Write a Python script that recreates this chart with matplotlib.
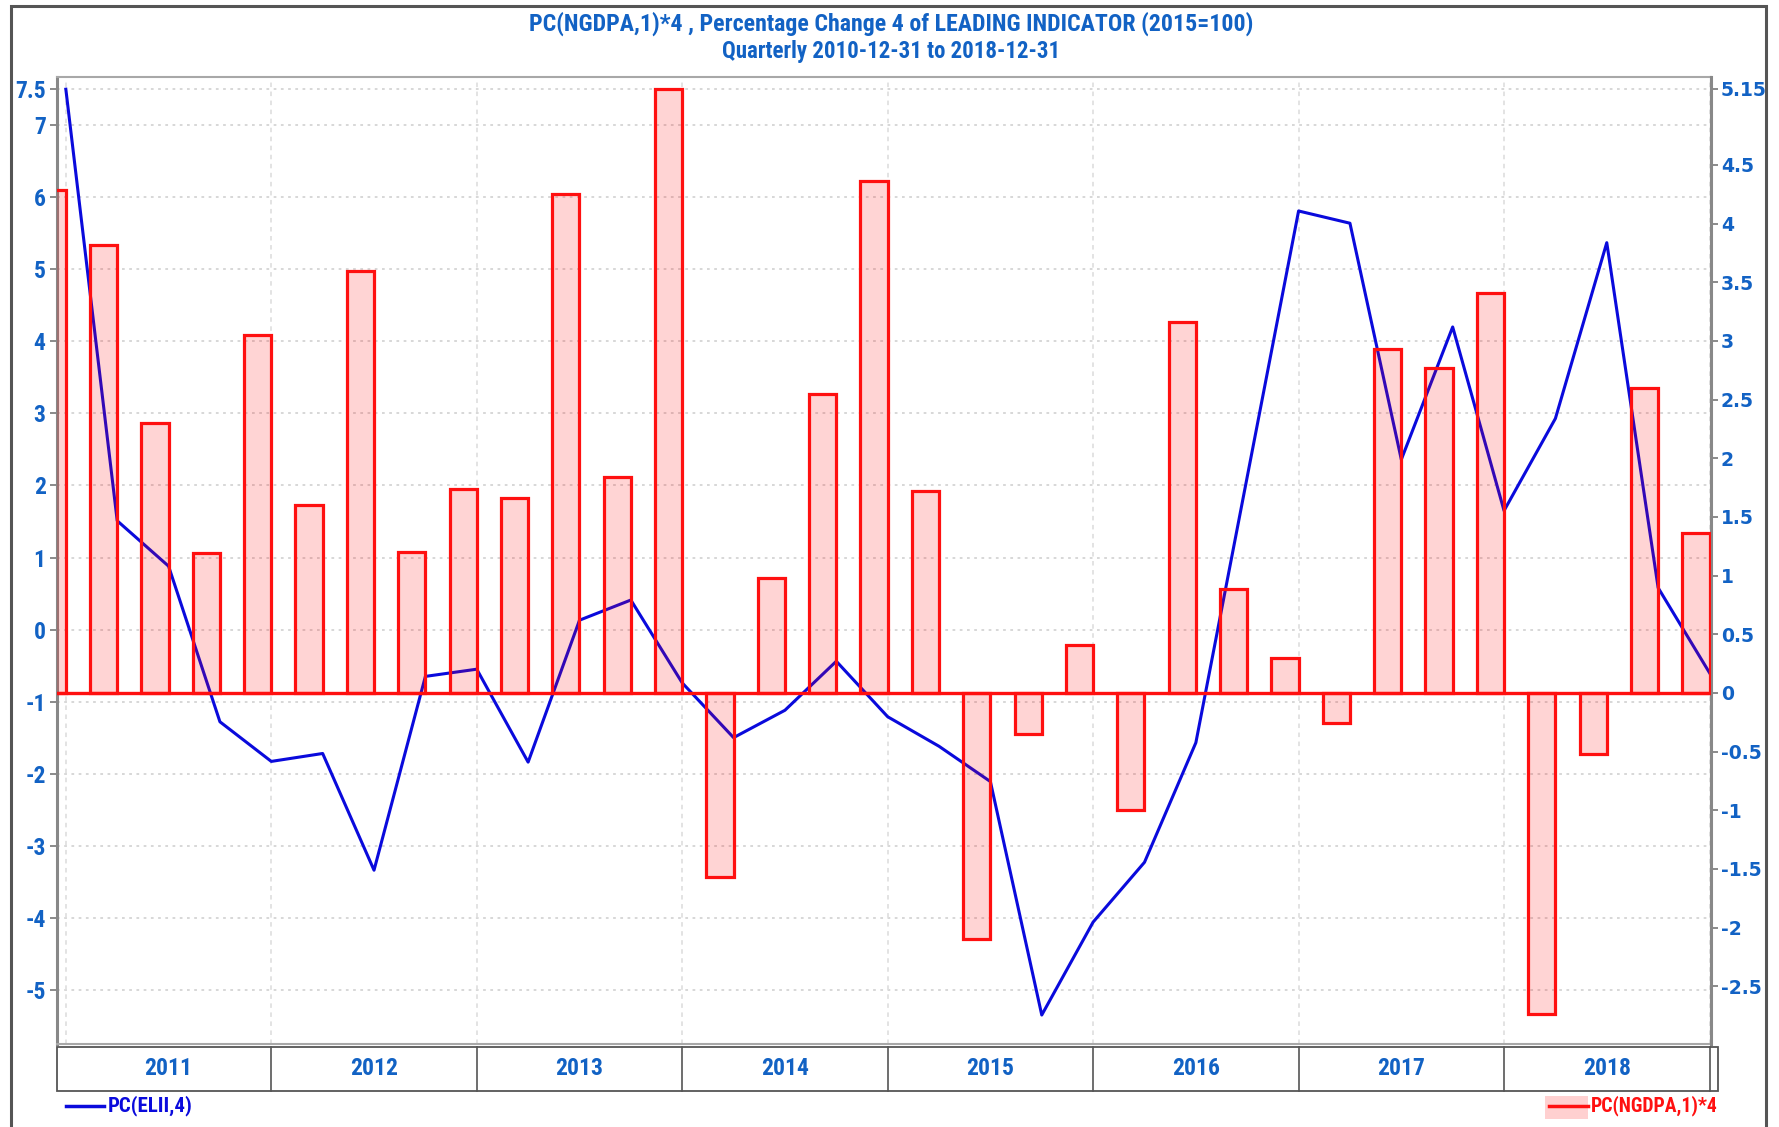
import matplotlib
matplotlib.use("Agg")
import matplotlib.pyplot as plt
from matplotlib.patches import Rectangle
from matplotlib.lines import Line2D
from matplotlib import font_manager as fm
import numpy as np

# ---------------- data ----------------
quarters = ["2010Q4",
            "2011Q1", "2011Q2", "2011Q3", "2011Q4",
            "2012Q1", "2012Q2", "2012Q3", "2012Q4",
            "2013Q1", "2013Q2", "2013Q3", "2013Q4",
            "2014Q1", "2014Q2", "2014Q3", "2014Q4",
            "2015Q1", "2015Q2", "2015Q3", "2015Q4",
            "2016Q1", "2016Q2", "2016Q3", "2016Q4",
            "2017Q1", "2017Q2", "2017Q3", "2017Q4",
            "2018Q1", "2018Q2", "2018Q3", "2018Q4"]

elii_pc4 = [7.5, 1.51, 0.88, -1.28, -1.83, -1.72, -3.34, -0.65, -0.55,
            -1.84, 0.13, 0.41, -0.74, -1.50, -1.12, -0.44, -1.21, -1.62,
            -2.11, -5.35, -4.06, -3.23, -1.57, 2.12, 5.81, 5.64, 2.36,
            4.20, 1.65, 2.93, 5.37, 0.58, -0.60]

ngdpa_pc1x4 = [4.29, 3.82, 2.30, 1.19, 3.05, 1.60, 3.60, 1.20, 1.74,
               1.66, 4.25, 1.84, 5.15, -1.57, 0.98, 2.55, 4.36, 1.72,
               -2.10, -0.35, 0.41, -1.00, 3.16, 0.89, 0.30, -0.26, 2.93,
               2.77, 3.41, -2.74, -0.52, 2.60, 1.36]

years = ["2011", "2012", "2013", "2014", "2015", "2016", "2017", "2018"]

left_ticks = [7.5, 7, 6, 5, 4, 3, 2, 1, 0, -1, -2, -3, -4, -5]
left_labels = ["7.5", "7", "6", "5", "4", "3", "2", "1", "0", "-1", "-2", "-3", "-4", "-5"]
right_ticks = [5.15, 4.5, 4, 3.5, 3, 2.5, 2, 1.5, 1, 0.5, 0, -0.5, -1, -1.5, -2, -2.5]
right_labels = ["5.15", "4.5", "4", "3.5", "3", "2.5", "2", "1.5", "1", "0.5", "0",
                "-0.5", "-1", "-1.5", "-2", "-2.5"]

title_line1 = "PC(NGDPA,1)*4 , Percentage Change 4 of LEADING INDICATOR (2015=100)"
title_line2 = "Quarterly 2010-12-31 to 2018-12-31"
line_label = "PC(ELII,4)"
bar_label = "PC(NGDPA,1)*4"

# ---------------- fonts ----------------
def available(name):
    try:
        path = fm.findfont(fm.FontProperties(family=name, weight="bold"),
                           fallback_to_default=False)
        return path is not None
    except Exception:
        return False

# (family, size scale relative to a true narrow face)
candidates = [("Liberation Sans Narrow", 1.0), ("DejaVu Sans Condensed", 0.90),
              ("Roboto Condensed", 1.0), ("Open Sans Condensed", 1.0),
              ("Liberation Sans", 0.84), ("DejaVu Sans", 0.75)]
NARROW_NAME, SC = "DejaVu Sans", 0.75
for name, sc in candidates:
    if available(name):
        NARROW_NAME, SC = name, sc
        break
NARROW = [NARROW_NAME, "DejaVu Sans"]

BLUE_TXT = "#1262c4"
LINE_BLUE = "#0a0adc"
RED = "#ff1010"

fig = plt.figure(figsize=(17.79, 11.27), dpi=100)
fig.patch.set_facecolor("white")

ax = fig.add_axes([0.0319, 0.0738, 0.9299, 0.8579])
x = np.arange(len(quarters))

ax.set_xlim(-0.177, 32.03)
ax.set_ylim(-5.75, 7.67)

# grid
ax.set_yticks(left_ticks)
ax.set_yticklabels(left_labels)
for t in left_ticks:
    ax.axhline(t, color="#d4d4d4", lw=1.3, ls=(0, (1.5, 2.5)), zorder=0)
for i in range(0, 33, 4):
    ax.axvline(i, color="#e0e0e0", lw=1.3, ls=(0, (2.5, 2.5)), zorder=0)

ax.plot(x, elii_pc4, color=LINE_BLUE, lw=2.2, zorder=2)

ax.set_xticks([])
ax.tick_params(axis="y", direction="out", length=5, width=1.2, color="#777777",
               labelcolor=BLUE_TXT, labelsize=17 * SC, pad=3)
for lab in ax.get_yticklabels():
    lab.set_fontfamily(NARROW)
    lab.set_fontweight("bold")

for s in ax.spines.values():
    s.set_color("#a8a8a8")
    s.set_linewidth(1.5)
ax.spines["left"].set_color("#888888")
ax.spines["left"].set_linewidth(2.2)

# right axis with bars
ax2 = ax.twinx()
ax2.set_ylim(-2.99, 5.25)
ax2.bar(x, ngdpa_pc1x4, width=-0.53, align="edge",
        facecolor=(1.0, 0.0, 0.0, 0.17), edgecolor=RED, linewidth=2.3, zorder=3)
ax2.axhline(0, color=RED, lw=2.4, zorder=4)
ax2.set_yticks(right_ticks)
ax2.set_yticklabels(right_labels)
ax2.tick_params(axis="y", direction="out", length=5, width=1.2, color="#777777",
                labelcolor=BLUE_TXT, labelsize=13.5, pad=2)
for lab in ax2.get_yticklabels():
    lab.set_fontfamily("DejaVu Sans")
    lab.set_fontweight("bold")
for s in ax2.spines.values():
    s.set_visible(False)
ax2.spines["right"].set_visible(True)
ax2.spines["right"].set_color("#888888")
ax2.spines["right"].set_linewidth(2.2)

# year strip below the plot
tr = ax.get_xaxis_transform()
strip_top, strip_bot = -0.003, -0.049
x_left, x_right = -0.177, 32.17
ax.add_patch(Rectangle((x_left, strip_bot), x_right - x_left, strip_top - strip_bot,
                       transform=tr, facecolor="white", edgecolor="#555555",
                       lw=1.3, clip_on=False, zorder=5))
for i in range(4, 33, 4):
    ax.add_line(Line2D([i, i], [strip_bot, strip_top], transform=tr, color="#555555",
                       lw=1.2, clip_on=False, zorder=6))
for k, yr in enumerate(years):
    ax.text(4 * k + 2, (strip_top + strip_bot) / 2, yr, transform=tr, ha="center",
            va="center", color=BLUE_TXT, fontsize=17 * SC, fontweight="bold",
            family=NARROW, zorder=7)

# title
fig.text(0.501, 0.979, title_line1, ha="center", va="center", color=BLUE_TXT,
         fontsize=17.2 * SC, fontweight="bold", family=NARROW)
fig.text(0.501, 0.954, title_line2, ha="center", va="center", color=BLUE_TXT,
         fontsize=16.5 * SC, fontweight="bold", family=NARROW)

# legends
ly = 1 - 1106 / 1127
fig.add_artist(Line2D([66 / 1779, 104 / 1779], [ly, ly], color=LINE_BLUE, lw=2.5))
fig.text(108 / 1779, ly, line_label, ha="left", va="center", color=LINE_BLUE,
         fontsize=15 * SC, fontweight="bold", family=NARROW)
fig.add_artist(Rectangle((1545 / 1779, 1 - 1119 / 1127), 43 / 1779, 23 / 1127,
                         transform=fig.transFigure, facecolor="#ffd0d0", edgecolor="none"))
fig.add_artist(Line2D([1549 / 1779, 1588 / 1779], [ly, ly], color=RED, lw=2.5))
fig.text(1591 / 1779, ly, bar_label, ha="left", va="center", color=RED,
         fontsize=14.2 * SC, fontweight="bold", family=NARROW)

# outer frame
fig.add_artist(Rectangle((11 / 1779, -0.01), 1766 / 1779 - 11 / 1779, 1.01 - 6 / 1127,
                         transform=fig.transFigure, facecolor="none",
                         edgecolor="#555555", lw=2.2))

fig.savefig("out.png", dpi=100)
